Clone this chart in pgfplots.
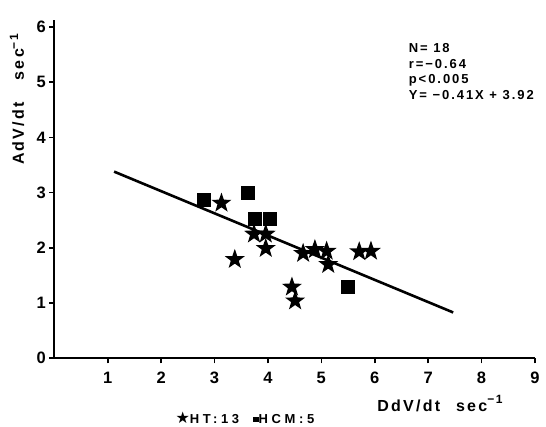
\documentclass[border=0pt]{standalone}
\usepackage{fontspec}
\setmainfont{Liberation Sans}
\newfontfamily\sym{DejaVu Sans}
\newfontfamily\lsp[LetterSpace=14]{Liberation Sans}
\newfontfamily\lspw[LetterSpace=15]{Liberation Sans}
\newfontfamily\lspl[LetterSpace=28]{Liberation Sans}
\usepackage{pgfplots}
\pgfplotsset{compat=1.18}

\pgfdeclareplotmark{fstar}{%
  \pgfpathmoveto{\pgfpointpolar{90}{\pgfplotmarksize}}%
  \pgfpathlineto{\pgfpointpolar{126}{0.40\pgfplotmarksize}}%
  \pgfpathlineto{\pgfpointpolar{162}{\pgfplotmarksize}}%
  \pgfpathlineto{\pgfpointpolar{198}{0.40\pgfplotmarksize}}%
  \pgfpathlineto{\pgfpointpolar{234}{\pgfplotmarksize}}%
  \pgfpathlineto{\pgfpointpolar{270}{0.40\pgfplotmarksize}}%
  \pgfpathlineto{\pgfpointpolar{306}{\pgfplotmarksize}}%
  \pgfpathlineto{\pgfpointpolar{342}{0.40\pgfplotmarksize}}%
  \pgfpathlineto{\pgfpointpolar{18}{\pgfplotmarksize}}%
  \pgfpathlineto{\pgfpointpolar{54}{0.40\pgfplotmarksize}}%
  \pgfpathclose
  \pgfusepathqfill}

\begin{document}
\begin{tikzpicture}
\begin{axis}[
  at={(0,0)}, anchor=south west,
  scale only axis,
  width=480.6pt, height=338pt,
  xmin=0, xmax=9, ymin=0, ymax=6.12,
  axis x line*=bottom, axis y line*=left,
  axis line style={line width=2.2pt},
  xtick={1,...,9}, ytick={0,...,6},
  tick align=outside,
  major tick length=5pt,
  tick style={line width=1.6pt, black},
  /pgf/number format/assume math mode=true,
  ticklabel style={font=\bfseries\fontsize{16.5}{16.5}\selectfont},
  xticklabel style={yshift=-5pt},
  clip=false,
]
\addplot[line width=2.6pt, no marks] coordinates {(1.12,3.38) (7.47,0.83)};
% HT stars
\addplot[only marks, mark=fstar, mark size=10.5pt, black] coordinates {
 (3.13,2.81) (3.38,1.79) (3.74,2.25) (3.96,2.25) (3.96,1.99)
 (4.45,1.29) (4.51,1.04) (4.66,1.90) (4.88,1.97) (5.10,1.94)
 (5.13,1.70) (5.71,1.93) (5.93,1.94)};
% HCM squares
\addplot[only marks, mark=square*, mark size=6.5pt, black] coordinates {
 (2.80,2.88) (3.63,2.99) (3.76,2.52) (4.04,2.52) (5.49,1.30)};
\end{axis}
\node[rotate=90, font=\lsp\bfseries\fontsize{16}{16}\selectfont] at (-37.3pt,259pt)
  {AdV/dt\hspace{22pt}sec\raisebox{0.35em}{\fontsize{12}{12}\selectfont −1}};
\node[font=\lsp\bfseries\fontsize{16}{16}\selectfont] at (385.7pt,-45.7pt)
  {DdV/dt\hspace{16pt}sec\raisebox{0.5em}{\fontsize{12}{12}\selectfont −1}};
\node[font=\lspl\bfseries\fontsize{13}{13}\selectfont, inner sep=0pt] at (190.7pt,-59pt)
  {{\sym\fontsize{16}{16}\selectfont ★}HT:13\hspace{14pt}\raisebox{1pt}{\rule{5.5pt}{5.5pt}}HCM:5};
\node[anchor=north west, align=left, font=\lspw\bfseries\fontsize{13}{15.5}\selectfont] at (351pt,318pt)
  {N= 18\\r=−0.64\\p<0.005\\Y= −0.41X + 3.92};
\pgfresetboundingbox
\path (-54.3pt,-68.7pt) rectangle (491.7pt,358.3pt);
\end{tikzpicture}
\end{document}
